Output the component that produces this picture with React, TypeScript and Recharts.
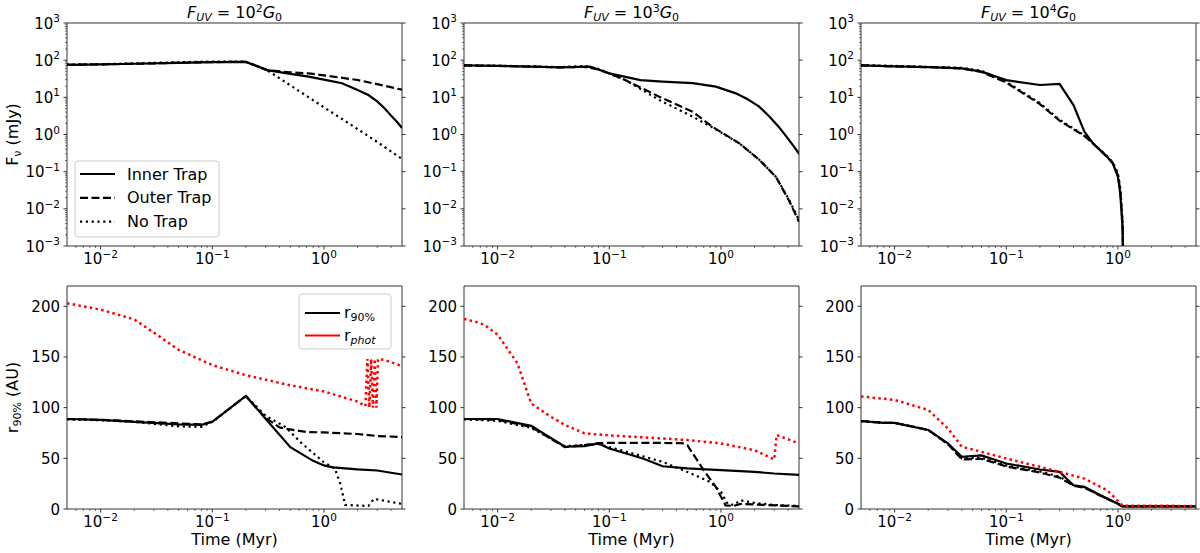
import React from 'react';
import { LineChart, Line, XAxis, YAxis, ReferenceArea } from 'recharts';

type Pt = [number, number];

// axes
const timeDomain: [number, number] = [0.005, 5];
const timeMajor = [0.01, 0.1, 1];
const fluxDomain: [number, number] = [1e-3, 1e3];
const fluxMajor = [1e-3, 1e-2, 1e-1, 1, 10, 100, 1000];
const radiusDomain: [number, number] = [0, 220];
const radiusTicks = [0, 50, 100, 150, 200];
const uvExponents = ['2', '3', '4'];
const trapNames = ['Inner Trap', 'Outer Trap', 'No Trap'];

// F_UV = 10^2 G0 : flux (mJy) vs time (Myr)
const fluxInner2: Pt[] = [[0.005, 75], [0.01, 77], [0.02, 80], [0.05, 85], [0.1, 89], [0.2, 90], [0.31, 54], [0.5, 43], [0.73, 36], [1, 30], [1.45, 24], [2, 15.8], [2.5, 11.5], [3, 7.8], [3.5, 5], [4, 3.2], [4.5, 2.2], [5, 1.5]];
const fluxOuter2: Pt[] = [[0.005, 75], [0.01, 77], [0.02, 80], [0.05, 85], [0.1, 89], [0.2, 90], [0.31, 54], [0.5, 47], [0.73, 44], [1, 39], [2, 29.3], [3, 22.6], [5, 16]];
const fluxNone2: Pt[] = [[0.005, 76], [0.01, 78], [0.02, 82], [0.05, 88], [0.1, 92], [0.2, 91], [0.31, 54], [0.5, 21], [1, 5.4], [2, 1.4], [3, 0.63], [5, 0.22]];

// F_UV = 10^3 G0
const fluxInner3: Pt[] = [[0.005, 72], [0.01, 70], [0.02, 67], [0.036, 64], [0.067, 67], [0.08, 56], [0.1, 44], [0.19, 29], [0.3, 26.5], [0.56, 24], [0.9, 19.4], [1.36, 12.8], [1.7, 9.2], [2.2, 5.6], [2.7, 3.1], [3.3, 1.6], [4, 0.76], [4.7, 0.4], [5, 0.3]];
const fluxOuter3: Pt[] = [[0.005, 72], [0.01, 70], [0.02, 67], [0.036, 64], [0.06, 66], [0.08, 56], [0.1, 44], [0.14, 29], [0.28, 10.4], [0.56, 4.1], [0.84, 1.6], [1.46, 0.58], [2.2, 0.21], [3.1, 0.073], [4.06, 0.017], [5, 0.0045]];
const fluxNone3: Pt[] = [[0.005, 73], [0.01, 71], [0.02, 68], [0.036, 65], [0.06, 70], [0.08, 58], [0.1, 44], [0.14, 29], [0.28, 8.5], [0.56, 3.0], [0.84, 1.55], [1.46, 0.58], [2.2, 0.21], [3.1, 0.073], [4.06, 0.018], [5, 0.005]];

// F_UV = 10^4 G0
const fluxInner4: Pt[] = [[0.005, 72], [0.01, 68], [0.02, 65], [0.04, 60], [0.06, 49], [0.1, 29], [0.2, 21.5], [0.3, 23], [0.4, 6.2], [0.5, 1.2], [0.6, 0.57], [0.8, 0.25], [0.9, 0.166], [1.0, 0.072], [1.05, 0.025], [1.1, 0.003], [1.12, 0.0001]];
const fluxOuter4: Pt[] = [[0.005, 72], [0.01, 68], [0.02, 65], [0.04, 60], [0.06, 48], [0.1, 25], [0.2, 6.6], [0.3, 2.35], [0.5, 0.92], [0.6, 0.57], [0.8, 0.25], [0.9, 0.17], [1.0, 0.08], [1.05, 0.03], [1.1, 0.004], [1.12, 0.0001]];
const fluxNone4: Pt[] = [[0.005, 74], [0.01, 70], [0.02, 66], [0.04, 62], [0.06, 52], [0.1, 26], [0.2, 7], [0.3, 2.5], [0.5, 0.95], [0.6, 0.58], [0.8, 0.26], [0.9, 0.18], [1.0, 0.09], [1.05, 0.035], [1.1, 0.005], [1.12, 0.0001]];

// r90% and r_phot (AU) vs time
const radInner2: Pt[] = [[0.005, 88.8], [0.01, 88], [0.02, 86], [0.05, 83.5], [0.08, 83], [0.1, 86], [0.2, 111.5], [0.3, 89], [0.5, 61], [0.8, 47.5], [1, 43], [1.2, 41], [2, 39], [3, 38], [5, 34]];
const radOuter2: Pt[] = [[0.005, 88.8], [0.01, 88], [0.02, 86.5], [0.05, 84.5], [0.08, 83.5], [0.1, 86], [0.2, 111.5], [0.3, 90], [0.4, 80.5], [0.5, 78.5], [0.7, 76], [1, 75.5], [2, 74], [3, 72], [5, 71]];
const radNone2: Pt[] = [[0.005, 88.5], [0.01, 87.5], [0.02, 86], [0.05, 81.5], [0.08, 81], [0.1, 86], [0.2, 111.5], [0.3, 92], [0.45, 81], [0.63, 65], [1, 46], [1.25, 40], [1.4, 25], [1.55, 4], [2.5, 3], [2.8, 10], [5, 5]];
const radPhot2: Pt[] = [[0.005, 203], [0.01, 196.7], [0.02, 187], [0.03, 174], [0.05, 157], [0.1, 142], [0.2, 132], [0.5, 122], [1, 116], [2, 106], [2.35, 101.5], [2.45, 148], [2.55, 100], [2.65, 148], [2.75, 100], [2.85, 148], [2.95, 100], [3.05, 148], [3.5, 147], [5, 141]];

const radInner3: Pt[] = [[0.005, 88.8], [0.01, 88.8], [0.02, 82], [0.04, 61.4], [0.06, 62], [0.08, 64.7], [0.1, 59.7], [0.2, 49.8], [0.3, 42.2], [0.5, 40], [1, 38.3], [2, 36.6], [3, 35], [5, 33.7]];
const radOuter3: Pt[] = [[0.005, 88.8], [0.01, 88], [0.02, 81], [0.04, 61], [0.06, 63], [0.08, 65], [0.1, 65.3], [0.2, 65.3], [0.45, 65], [0.5, 63], [0.7, 38.3], [0.9, 21.8], [1.1, 3.6], [1.3, 3], [1.5, 5], [2, 4.5], [5, 2.5]];
const radNone3: Pt[] = [[0.005, 88.5], [0.01, 87], [0.02, 80], [0.04, 62], [0.08, 64], [0.1, 61], [0.2, 52], [0.3, 46.5], [0.5, 36.6], [0.8, 26.7], [1, 16.8], [1.15, 5], [1.3, 4], [1.5, 8.6], [2, 6], [3, 4], [5, 3]];
const radPhot3: Pt[] = [[0.005, 187.5], [0.007, 183.5], [0.008, 180], [0.01, 172], [0.015, 144], [0.02, 104], [0.03, 91], [0.04, 83], [0.06, 74.6], [0.1, 72.6], [0.3, 69.6], [0.5, 68], [1, 64.7], [2, 58], [3, 48.8], [3.15, 73], [5, 64.7]];

const radInner4: Pt[] = [[0.005, 86.8], [0.008, 85], [0.01, 85], [0.02, 78], [0.03, 64.7], [0.04, 51.5], [0.06, 52.8], [0.1, 44.9], [0.2, 39], [0.3, 36.6], [0.4, 23.4], [0.5, 21.8], [0.7, 13.5], [1, 5.3], [1.1, 2.6], [5, 2.6]];
const radOuter4: Pt[] = [[0.005, 86.8], [0.008, 85], [0.01, 85], [0.02, 78], [0.03, 64], [0.04, 49], [0.06, 49.5], [0.1, 42], [0.2, 36], [0.3, 31], [0.4, 23], [0.5, 21], [0.7, 13], [1, 5], [1.1, 2.6], [5, 2.6]];
const radNone4: Pt[] = [[0.005, 86.5], [0.008, 85], [0.01, 85], [0.02, 78], [0.03, 64], [0.04, 50], [0.06, 50.5], [0.1, 43], [0.2, 37], [0.3, 32], [0.4, 23.5], [0.5, 21.5], [0.7, 13], [1, 5], [1.1, 2.6], [5, 2.6]];
const radPhot4: Pt[] = [[0.005, 111], [0.01, 107.6], [0.02, 97.7], [0.03, 79.5], [0.04, 61.4], [0.06, 56.4], [0.1, 49.8], [0.2, 41.6], [0.3, 36.6], [0.5, 30], [0.8, 18.5], [1.1, 3.3], [5, 3]];

const FONT = 'DejaVu Sans, sans-serif';
const AXIS = '#333';
const PLOT_W = 335;
const PLOT_H = 223;
const COL_X = [67, 464, 861];
const ROW_Y = [23, 286];
const Y_AXIS_W = 60;
const PAD_TOP = 15;

type Style = 'solid' | 'dashed' | 'dotted' | 'red';
const lineStyles: Record<Style, { stroke: string; width: number; dash?: string }> = {
  solid: { stroke: '#000', width: 2.2 },
  dashed: { stroke: '#000', width: 2.2, dash: '8 3.5' },
  dotted: { stroke: '#000', width: 2.2, dash: '2.2 3.6' },
  red: { stroke: '#ff0000', width: 2.5, dash: '2.5 3.3' },
};

const minorsBetween = (lo: number, hi: number) => {
  const out: number[] = [];
  for (let e = Math.floor(Math.log10(lo)); e <= Math.ceil(Math.log10(hi)); e++) {
    for (let m = 2; m <= 9; m++) {
      const v = m * Math.pow(10, e);
      if (v > lo * 1.0001 && v < hi * 0.9999) out.push(v);
    }
  }
  return out;
};

const isDecade = (v: number) => Math.abs(Math.log10(v) - Math.round(Math.log10(v))) < 1e-6;
const expText = (v: number) => {
  const e = Math.round(Math.log10(v));
  return e < 0 ? `\u2212${-e}` : `${e}`;
};

const timeTicks = [...timeMajor, ...minorsBetween(timeDomain[0], timeDomain[1])];
const fluxTicks = [...fluxMajor, ...minorsBetween(fluxDomain[0], fluxDomain[1])];

const Power = ({ x, y, v, anchor }: { x: number; y: number; v: number; anchor: 'middle' | 'end' }) => (
  <text x={x} y={y} textAnchor={anchor} fontFamily={FONT} fontSize={15} fill="#000">
    10
    <tspan dy={-6.5} fontSize={10.5}>{expText(v)}</tspan>
  </text>
);

const TimeTick = (props: any) => {
  const { x, y, payload } = props;
  const major = isDecade(payload.value);
  return (
    <g>
      <line x1={x} x2={x} y1={y} y2={y + (major ? 3.5 : 2)} stroke={AXIS} strokeWidth={major ? 1 : 0.7} />
      {major && <Power x={x} y={y + 18} v={payload.value} anchor="middle" />}
    </g>
  );
};

const FluxTick = (props: any) => {
  const { x, y, payload } = props;
  const major = isDecade(payload.value);
  return (
    <g>
      <line x1={x} x2={x - (major ? 3.5 : 2)} y1={y} y2={y} stroke={AXIS} strokeWidth={major ? 1 : 0.7} />
      {major && <Power x={x - 7} y={y + 5.5} v={payload.value} anchor="end" />}
    </g>
  );
};

const RadiusTick = (props: any) => {
  const { x, y, payload } = props;
  return (
    <g>
      <line x1={x} x2={x - 3.5} y1={y} y2={y} stroke={AXIS} />
      <text x={x - 7} y={y + 5.5} textAnchor="end" fontFamily={FONT} fontSize={15} fill="#000">
        {payload.value}
      </text>
    </g>
  );
};

const RightTick = (props: any) => {
  const { x, y } = props;
  return <line x1={x} x2={x + 3.5} y1={y} y2={y} stroke={AXIS} />;
};

interface Series {
  data: Pt[];
  style: Style;
}

interface PanelProps {
  col: number;
  row: number;
  series: Series[];
}

const Panel = ({ col, row, series }: PanelProps) => {
  const isFlux = row === 0;
  const yDomain = isFlux ? fluxDomain : radiusDomain;
  return (
    <div style={{ position: 'absolute', left: COL_X[col] - Y_AXIS_W, top: ROW_Y[row] - PAD_TOP }}>
      <LineChart
        width={Y_AXIS_W + PLOT_W + 6}
        height={PAD_TOP + PLOT_H + 40}
        margin={{ top: PAD_TOP, right: 0, bottom: 0, left: 0 }}
      >
        <XAxis
          dataKey="t"
          type="number"
          scale="log"
          domain={timeDomain}
          allowDataOverflow
          ticks={timeTicks}
          interval={0}
          height={40}
          tickSize={0}
          tickMargin={0}
          tickLine={false}
          axisLine={false}
          tick={TimeTick}
        />
        <YAxis
          type="number"
          scale={isFlux ? 'log' : 'linear'}
          domain={yDomain}
          allowDataOverflow
          ticks={isFlux ? fluxTicks : radiusTicks}
          interval={0}
          width={Y_AXIS_W}
          tickSize={0}
          tickMargin={0}
          tickLine={false}
          axisLine={false}
          tick={isFlux ? FluxTick : RadiusTick}
        />
        <YAxis
          yAxisId="right"
          orientation="right"
          type="number"
          scale={isFlux ? 'log' : 'linear'}
          domain={yDomain}
          allowDataOverflow
          ticks={isFlux ? fluxMajor : radiusTicks}
          interval={0}
          width={6}
          tickSize={0}
          tickMargin={0}
          tickLine={false}
          axisLine={false}
          tick={RightTick}
        />
        <ReferenceArea
          x1={timeDomain[0]}
          x2={timeDomain[1]}
          y1={yDomain[0]}
          y2={yDomain[1]}
          fill="none"
          stroke={AXIS}
          strokeWidth={1}
          ifOverflow="visible"
        />
        {series.map((s, i) => {
          const st = lineStyles[s.style];
          return (
            <Line
              key={i}
              data={s.data.map(([t, v]) => ({ t, v }))}
              dataKey="v"
              type="linear"
              stroke={st.stroke}
              strokeWidth={st.width}
              strokeDasharray={st.dash}
              dot={false}
              activeDot={false}
              isAnimationActive={false}
            />
          );
        })}
      </LineChart>
    </div>
  );
};

const fluxPanels: Series[][] = [
  [{ data: fluxInner2, style: 'solid' }, { data: fluxOuter2, style: 'dashed' }, { data: fluxNone2, style: 'dotted' }],
  [{ data: fluxInner3, style: 'solid' }, { data: fluxOuter3, style: 'dashed' }, { data: fluxNone3, style: 'dotted' }],
  [{ data: fluxInner4, style: 'solid' }, { data: fluxOuter4, style: 'dashed' }, { data: fluxNone4, style: 'dotted' }],
];

const radiusPanels: Series[][] = [
  [{ data: radInner2, style: 'solid' }, { data: radOuter2, style: 'dashed' }, { data: radNone2, style: 'dotted' }, { data: radPhot2, style: 'red' }],
  [{ data: radInner3, style: 'solid' }, { data: radOuter3, style: 'dashed' }, { data: radNone3, style: 'dotted' }, { data: radPhot3, style: 'red' }],
  [{ data: radInner4, style: 'solid' }, { data: radOuter4, style: 'dashed' }, { data: radNone4, style: 'dotted' }, { data: radPhot4, style: 'red' }],
];

const trapStyles: Style[] = ['solid', 'dashed', 'dotted'];

const Annotations = () => (
  <svg width={1200} height={553} style={{ position: 'absolute', left: 0, top: 0, pointerEvents: 'none' }} fontFamily={FONT}>
    {uvExponents.map((e, i) => (
      <text key={e} x={COL_X[i] + PLOT_W / 2} y={18} textAnchor="middle" fontSize={16} fill="#000">
        <tspan fontStyle="italic">F</tspan>
        <tspan fontStyle="italic" fontSize={11} dy={3}>UV</tspan>
        <tspan dy={-3}> = 10</tspan>
        <tspan fontSize={11} dy={-6.5}>{e}</tspan>
        <tspan fontStyle="italic" dy={6.5}>G</tspan>
        <tspan fontSize={11} dy={3}>0</tspan>
      </text>
    ))}
    <text transform={`translate(18, ${ROW_Y[0] + PLOT_H / 2}) rotate(-90)`} textAnchor="middle" fontSize={16} fill="#000">
      F<tspan fontSize={11} dy={3}>ν</tspan>
      <tspan dy={-3}> (mJy)</tspan>
    </text>
    <text transform={`translate(18, ${ROW_Y[1] + PLOT_H / 2}) rotate(-90)`} textAnchor="middle" fontSize={16} fill="#000">
      r<tspan fontSize={11} dy={3}>90%</tspan>
      <tspan dy={-3}> (AU)</tspan>
    </text>
    {COL_X.map((x) => (
      <text key={x} x={x + PLOT_W / 2} y={545} textAnchor="middle" fontSize={16} fill="#000">
        Time (Myr)
      </text>
    ))}

    {/* trap legend */}
    <rect x={75} y={161} width={144} height={76} rx={3} fill="#fff" fillOpacity={0.8} stroke="#ccc" />
    {trapNames.map((name, i) => {
      const st = lineStyles[trapStyles[i]];
      const y = 174 + i * 23.8;
      return (
        <g key={name}>
          <line x1={80} x2={115} y1={y} y2={y} stroke={st.stroke} strokeWidth={st.width} strokeDasharray={st.dash} />
          <text x={127} y={y + 5.5} fontSize={16} fill="#000">{name}</text>
        </g>
      );
    })}

    {/* radius legend */}
    <rect x={299} y={294} width={92} height={55} rx={3} fill="#fff" fillOpacity={0.8} stroke="#ccc" />
    <line x1={305} x2={340} y1={313} y2={313} stroke="#000" strokeWidth={2.2} />
    <text x={344} y={318} fontSize={16} fill="#000">
      r<tspan fontSize={11} dy={3}>90%</tspan>
    </text>
    <line x1={305} x2={340} y1={335.5} y2={335.5} stroke="#ff0000" strokeWidth={2.2} />
    <text x={344} y={340.5} fontSize={16} fill="#000">
      r<tspan fontSize={11} dy={3} fontStyle="italic">phot</tspan>
    </text>
  </svg>
);

export default function App() {
  return (
    <div style={{ position: 'absolute', left: 0, top: 0, width: 1200, height: 553, overflow: 'hidden', background: '#fff' }}>
      {fluxPanels.map((s, i) => (
        <Panel key={`f${i}`} col={i} row={0} series={s} />
      ))}
      {radiusPanels.map((s, i) => (
        <Panel key={`r${i}`} col={i} row={1} series={s} />
      ))}
      <Annotations />
    </div>
  );
}
